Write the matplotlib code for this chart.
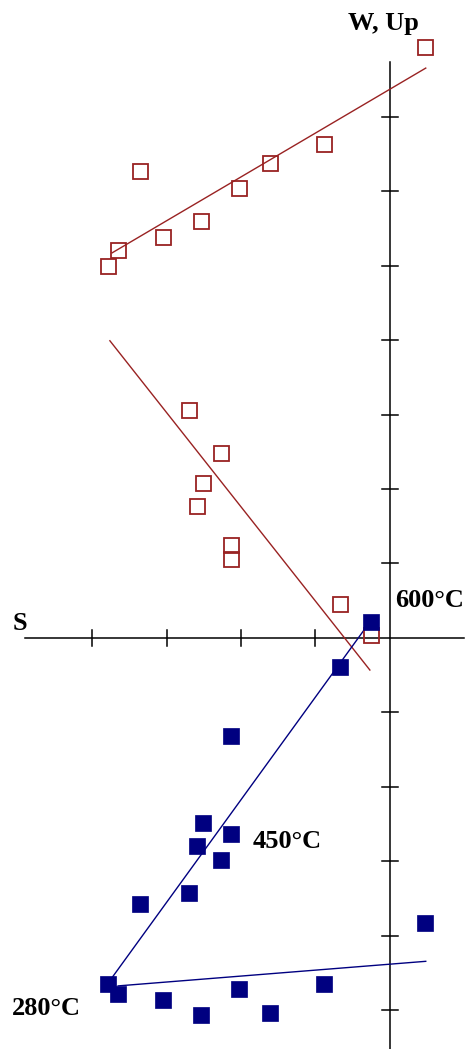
import numpy as np
import matplotlib.pyplot as plt

# demagnetisation steps, axis units = one tick
x_upper = [-3.79, -3.65, -3.36, -3.05, -2.54, -2.03, -1.61, -0.89, 0.47]
y_open_upper = [4.99, 5.21, 6.27, 5.38, 5.60, 6.04, 6.38, 6.63, 7.93]
y_fill_lower = [-4.64, -4.78, -3.57, -4.86, -5.06, -4.71, -5.03, -4.64, -3.83]

x_mid = [-2.70, -2.27, -2.51, -2.59, -2.13, -2.13, -0.67, -0.26]
y_open_mid = [3.06, 2.48, 2.08, 1.77, 1.25, 1.06, 0.46, 0.04]
y_fill_mid = [-3.42, -2.98, -2.48, -2.79, -1.32, -2.63, -0.39, 0.22]

# fitted components (end points)
fit_red_hi_x = [-3.73, 0.48]
fit_red_hi_y = [5.17, 7.65]
fit_red_lo_x = [-3.76, -0.27]
fit_red_lo_y = [3.99, -0.43]
fit_blue_hi_x = [-3.79, -0.31]
fit_blue_hi_y = [-4.64, 0.16]
fit_blue_lo_x = [-3.65, 0.48]
fit_blue_lo_y = [-4.67, -4.34]

h_ticks = [-4, -3, -2, -1]
v_ticks = [7, 6, 5, 4, 3, 2, 1, -1, -2, -3, -4, -5]

red = '#992222'
blue = '#000080'
font = dict(family='Liberation Serif', fontweight='bold', fontsize=19, color='black')

fig = plt.figure(figsize=(4.70, 10.49), dpi=100)
ax = fig.add_axes([0, 0, 1, 1])
ax.set_xlim(-5.235, 1.074)
ax.set_ylim(-5.517, 8.564)
ax.axis('off')

# axes cross
ax.plot([-4.90, 0.99], [0, 0], color='black', lw=1.1)
ax.plot([0, 0], [7.73, -5.6], color='black', lw=1.1)
t = 0.107
for v in h_ticks:
    ax.plot([v, v], [-t, t], color='black', lw=1.1)
for v in v_ticks:
    ax.plot([-t, t], [v, v], color='black', lw=1.1)

# fit lines
ax.plot(fit_red_hi_x, fit_red_hi_y, color=red, lw=1)
ax.plot(fit_red_lo_x, fit_red_lo_y, color=red, lw=1)
ax.plot(fit_blue_hi_x, fit_blue_hi_y, color=blue, lw=1)
ax.plot(fit_blue_lo_x, fit_blue_lo_y, color=blue, lw=1)

# vertical projection (open) and horizontal projection (filled)
ax.plot(x_upper + x_mid, y_open_upper + y_open_mid, 's', ms=10.8,
        mfc='none', mec=red, mew=1.3, ls='none')
ax.plot(x_upper + x_mid, y_fill_lower + y_fill_mid, 's', ms=11,
        mfc=blue, mec=blue, mew=0.5, ls='none')

ax.text(-0.094, 8.16, 'W, Up', ha='center', va='baseline', **font)
ax.text(-5.07, 0.107, 'S', ha='left', va='baseline', **font)
ax.text(0.067, 0.416, '600°C', ha='left', va='baseline', **font)
ax.text(-1.85, -2.82, '450°C', ha='left', va='baseline', **font)
ax.text(-5.07, -5.06, '280°C', ha='left', va='baseline', **font)

plt.savefig('out.png', dpi=100)
